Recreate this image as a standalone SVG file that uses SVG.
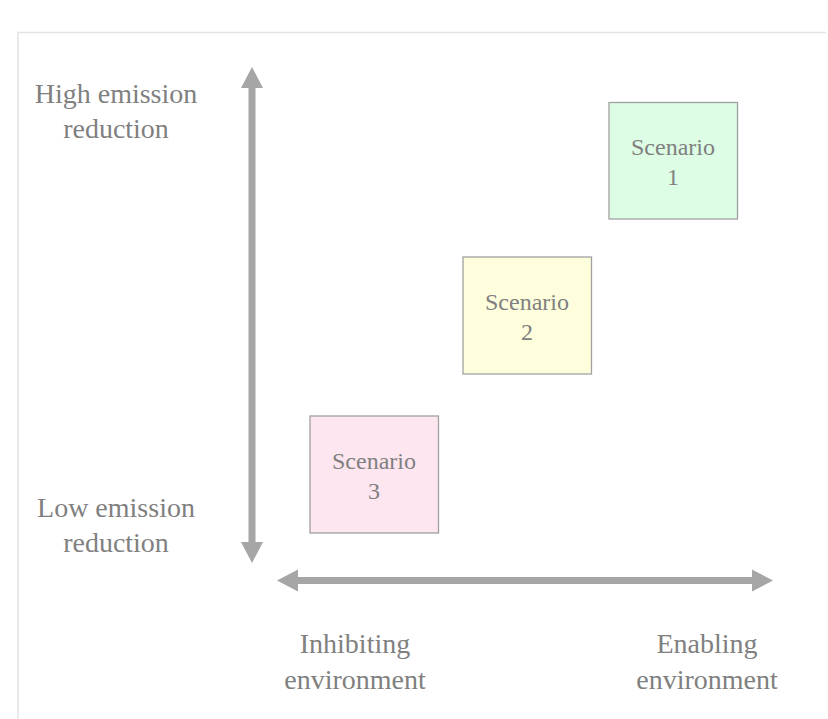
<svg xmlns="http://www.w3.org/2000/svg" width="828" height="719" viewBox="0 0 828 719">
<style>
.lbl{font-family:"Liberation Serif","Times New Roman",serif;font-size:28px;fill:#808080;text-anchor:middle}
.sc{font-family:"Liberation Serif","Times New Roman",serif;font-size:24px;fill:#808080;text-anchor:middle}
.box{stroke:#a0a0a0;stroke-width:1.3}
.ax{fill:#a6a6a6}
</style>
<rect width="828" height="719" fill="#ffffff"/>
<path d="M18,719 V32.5 H826" fill="none" stroke="#e3e3e3" stroke-width="1.5"/>
<g id="connectors">
<path class="ax" d="M252,67 L263,88 L255.5,88 L255.5,542 L263,542 L252,563 L241,542 L248.5,542 L248.5,88 L241,88 Z"/>
<path class="ax" d="M277,580.5 L298,569.5 L298,577 L752,577 L752,569.5 L773,580.5 L752,591.5 L752,584 L298,584 L298,591.5 Z"/>
</g>
<g id="label-high">
<text class="lbl" x="116" y="103">High emission</text>
<text class="lbl" x="116" y="138">reduction</text>
</g>
<g id="label-low">
<text class="lbl" x="116" y="517">Low emission</text>
<text class="lbl" x="116" y="552">reduction</text>
</g>
<g id="label-inhibiting">
<text class="lbl" x="355" y="653">Inhibiting</text>
<text class="lbl" x="355" y="689">environment</text>
</g>
<g id="label-enabling">
<text class="lbl" x="707" y="653">Enabling</text>
<text class="lbl" x="707" y="689">environment</text>
</g>
<g id="scenario1">
<rect class="box" x="609" y="102.5" width="128.5" height="116.5" fill="#ddfde5"/>
<text class="sc" x="673" y="155">Scenario</text>
<text class="sc" x="673" y="185">1</text>
</g>
<g id="scenario2">
<rect class="box" x="463" y="257" width="128.5" height="117" fill="#fefedd"/>
<text class="sc" x="527" y="310">Scenario</text>
<text class="sc" x="527" y="340">2</text>
</g>
<g id="scenario3">
<rect class="box" x="310" y="416" width="128.5" height="117" fill="#fee6f0"/>
<text class="sc" x="374" y="469">Scenario</text>
<text class="sc" x="374" y="499">3</text>
</g>
</svg>
